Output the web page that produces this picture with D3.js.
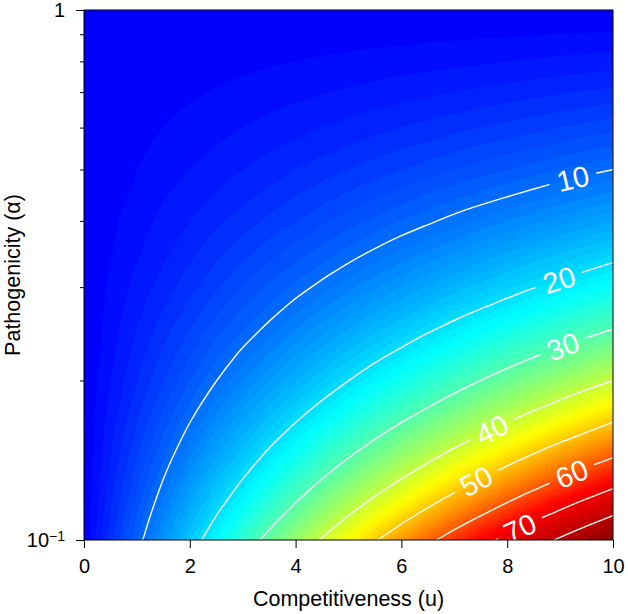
<!DOCTYPE html>
<html>
<head>
<meta charset="utf-8">
<script src="https://cdn.jsdelivr.net/npm/d3@7"></script>
<style>
body { margin: 0; background: #fff; }
text { font-family: "Liberation Sans", Arial, Helvetica, sans-serif; }
</style>
</head>
<body>
<div id="container"></div>
<script>
// grid: columns = competitiveness u, rows = pathogenicity alpha (bottom to top)
var uCols = [0, 0.5, 1, 1.5, 2, 2.5, 3, 3.5, 4, 4.5, 5, 5.5, 6, 6.5, 7, 7.5, 8, 8.5, 9, 9.5, 10];
var alphaRows = [0.1, 0.1122, 0.1259, 0.1413, 0.1585, 0.1778, 0.1995, 0.2239, 0.2512, 0.2818, 0.3162,
	0.3548, 0.3981, 0.4467, 0.5012, 0.5623, 0.6310, 0.7079, 0.7943, 0.8913, 1.0];
var valueGrid = [
	[0, 4.5, 9.0, 13.5, 18.0, 22.5, 27.0, 31.5, 36.0, 40.5, 45.0, 49.5, 54.0, 58.5, 63.0, 67.5, 72.0, 76.5, 81.0, 85.5, 90.0],
	[0, 4.0, 7.9, 11.9, 15.8, 19.8, 23.7, 27.7, 31.6, 35.6, 39.6, 43.5, 47.5, 51.4, 55.4, 59.3, 63.3, 67.2, 71.2, 75.1, 79.1],
	[0, 3.5, 6.9, 10.4, 13.9, 17.4, 20.8, 24.3, 27.8, 31.2, 34.7, 38.2, 41.6, 45.1, 48.6, 52.1, 55.5, 59.0, 62.5, 65.9, 69.4],
	[0, 3.0, 6.1, 9.1, 12.2, 15.2, 18.2, 21.3, 24.3, 27.4, 30.4, 33.4, 36.5, 39.5, 42.6, 45.6, 48.6, 51.7, 54.7, 57.8, 60.8],
	[0, 2.7, 5.3, 8.0, 10.6, 13.3, 15.9, 18.6, 21.2, 23.9, 26.6, 29.2, 31.9, 34.5, 37.2, 39.8, 42.5, 45.1, 47.8, 50.4, 53.1],
	[0, 2.3, 4.6, 6.9, 9.2, 11.6, 13.9, 16.2, 18.5, 20.8, 23.1, 25.4, 27.7, 30.0, 32.3, 34.7, 37.0, 39.3, 41.6, 43.9, 46.2],
	[0, 2.0, 4.0, 6.0, 8.0, 10.03, 12.0, 14.0, 16.0, 18.0, 20.05, 22.1, 24.1, 26.1, 28.1, 30.1, 32.1, 34.1, 36.1, 38.1, 40.1],
	[0, 1.7, 3.5, 5.2, 6.9, 8.7, 10.4, 12.1, 13.9, 15.6, 17.4, 19.1, 20.8, 22.6, 24.3, 26.0, 27.8, 29.5, 31.2, 33.0, 34.7],
	[0, 1.5, 3.0, 4.5, 6.0, 7.5, 8.9, 10.4, 11.9, 13.4, 14.9, 16.4, 17.9, 19.4, 20.9, 22.4, 23.8, 25.3, 26.8, 28.3, 29.8],
	[0, 1.3, 2.6, 3.8, 5.1, 6.4, 7.7, 8.9, 10.2, 11.5, 12.8, 14.0, 15.3, 16.6, 17.9, 19.1, 20.4, 21.7, 23.0, 24.2, 25.5],
	[0, 1.1, 2.2, 3.2, 4.3, 5.4, 6.5, 7.6, 8.6, 9.7, 10.8, 11.9, 13.0, 14.0, 15.1, 16.2, 17.3, 18.4, 19.4, 20.5, 21.6],
	[0, 0.9, 1.8, 2.7, 3.6, 4.6, 5.5, 6.4, 7.3, 8.2, 9.1, 10.01, 10.9, 11.8, 12.7, 13.7, 14.6, 15.5, 16.4, 17.3, 18.2],
	[0, 0.8, 1.5, 2.3, 3.0, 3.8, 4.5, 5.3, 6.0, 6.8, 7.6, 8.3, 9.1, 9.8, 10.6, 11.3, 12.1, 12.8, 13.6, 14.3, 15.1],
	[0, 0.6, 1.2, 1.9, 2.5, 3.1, 3.7, 4.3, 5.0, 5.6, 6.2, 6.8, 7.4, 8.1, 8.7, 9.3, 9.9, 10.5, 11.2, 11.8, 12.4],
	[0, 0.50, 0.99, 1.49, 1.99, 2.49, 2.99, 3.48, 3.98, 4.48, 4.98, 5.47, 5.97, 6.47, 6.97, 7.46, 7.96, 8.46, 8.96, 9.45, 9.95],
	[0, 0.39, 0.78, 1.17, 1.56, 1.95, 2.33, 2.72, 3.11, 3.50, 3.89, 4.28, 4.67, 5.06, 5.45, 5.84, 6.22, 6.61, 7.00, 7.39, 7.78],
	[0, 0.29, 0.59, 0.88, 1.17, 1.46, 1.76, 2.05, 2.34, 2.63, 2.93, 3.22, 3.51, 3.80, 4.10, 4.39, 4.68, 4.97, 5.27, 5.56, 5.85],
	[0, 0.21, 0.41, 0.62, 0.83, 1.03, 1.24, 1.45, 1.65, 1.86, 2.07, 2.27, 2.48, 2.68, 2.89, 3.10, 3.30, 3.51, 3.72, 3.92, 4.13],
	[0, 0.13, 0.26, 0.39, 0.52, 0.65, 0.78, 0.91, 1.04, 1.17, 1.30, 1.42, 1.55, 1.68, 1.81, 1.94, 2.07, 2.20, 2.33, 2.46, 2.59],
	[0, 0.06, 0.12, 0.18, 0.24, 0.31, 0.37, 0.43, 0.49, 0.55, 0.61, 0.67, 0.73, 0.79, 0.85, 0.92, 0.98, 1.04, 1.10, 1.16, 1.22],
	[0, 0, 0, 0, 0, 0, 0, 0, 0, 0, 0, 0, 0, 0, 0, 0, 0, 0, 0, 0, 0]
];
var lineLevels = [10, 20, 30, 40, 50, 60, 70, 80];
var labelLevels = [10, 20, 30, 40, 50, 60, 70];
var labelU = [9.24, 8.98, 9.05, 7.71, 7.41, 9.22, 8.24];
var xTicks = [0, 2, 4, 6, 8, 10];
var yMajor = [0.1, 1];
var yMinor = [0.2, 0.3, 0.4, 0.5, 0.6, 0.7, 0.8, 0.9];

var colourStops = [0, 0.25, 0.5, 0.75, 1];
var colourNames = ["#0000ff", "#00ffff", "#ffff00", "#ff0000", "#8b0000"];

var width = 628, height = 614;
var margin = {top: 10, right: 15, bottom: 74, left: 84};

var x = d3.scaleLinear().domain([0, 10]).range([margin.left, width - margin.right]);
var y = d3.scaleLog().domain([0.1, 1]).range([height - margin.bottom, margin.top]);
var colour = d3.scaleLinear().domain(colourStops).range(colourNames);

var svg = d3.select("#container").append("svg")
	.attr("width", width)
	.attr("height", height);

var defs = svg.append("defs");
defs.append("clipPath").attr("id", "plotclip").append("rect")
	.attr("x", x(0)).attr("y", y(1))
	.attr("width", x(10) - x(0)).attr("height", y(0.1) - y(1));

var nx = uCols.length, ny = alphaRows.length;
var values = [];
valueGrid.forEach(function(row) {
	row.forEach(function(v) { values.push(v); });
});

function clamp(v, lo, hi) { return Math.max(lo, Math.min(hi, v)); }
function colU(g) {
	var i = Math.min(Math.floor(g), nx - 2), f = g - i;
	return uCols[i] + f * (uCols[i + 1] - uCols[i]);
}
function rowAlpha(g) {
	var j = Math.min(Math.floor(g), ny - 2), f = g - j;
	return Math.exp(Math.log(alphaRows[j]) * (1 - f) + Math.log(alphaRows[j + 1]) * f);
}
// d3.contours puts sample i at i + 0.5
function gridPt(p) { return [clamp(p[0] - 0.5, 0, nx - 1), clamp(p[1] - 0.5, 0, ny - 1)]; }
function screenPt(g) { return [x(colU(g[0])), y(rowAlpha(g[1]))]; }

var contours = d3.contours().size([nx, ny]);

function ringsPath(coords) {
	return coords.map(function(poly) {
		return poly.map(function(ring) {
			return "M" + ring.map(function(p) { return screenPt(gridPt(p)); }).join("L") + "Z";
		}).join("");
	}).join("");
}

// filled bands, step 1
var bandLevels = d3.range(0, 90, 1);
var plot = svg.append("g").attr("clip-path", "url(#plotclip)");

plot.append("g").selectAll("path")
	.data(bandLevels).enter()
	.append("path")
	.attr("d", function(t) { return ringsPath(contours.contour(values, t).coordinates); })
	.attr("fill", function(t, i) { return colour(i / (bandLevels.length - 1)); })
	.attr("fill-rule", "evenodd");

// iso lines without the border pieces
function isoLines(level) {
	var c = contours.contour(values, level), lines = [];
	c.coordinates.forEach(function(poly) {
		poly.forEach(function(ring) {
			var cur = [];
			for (var k = 0; k < ring.length - 1; k++) {
				var a = gridPt(ring[k]), b = gridPt(ring[k + 1]);
				var border = (a[0] === 0 && b[0] === 0) || (a[0] === nx - 1 && b[0] === nx - 1) ||
					(a[1] === 0 && b[1] === 0) || (a[1] === ny - 1 && b[1] === ny - 1);
				if (border) {
					if (cur.length > 1) lines.push(cur);
					cur = [];
					continue;
				}
				var pa = screenPt(a), pb = screenPt(b);
				if (!cur.length) cur.push(pa);
				var last = cur[cur.length - 1];
				if (Math.abs(last[0] - pb[0]) + Math.abs(last[1] - pb[1]) > 3) cur.push(pb);
			}
			if (cur.length > 1) lines.push(cur);
		});
	});
	return lines;
}

function yAtX(lines, X) {
	for (var l = 0; l < lines.length; l++) {
		var pts = lines[l];
		for (var k = 0; k < pts.length - 1; k++) {
			var p0 = pts[k], p1 = pts[k + 1];
			if ((p0[0] - X) * (p1[0] - X) <= 0 && p0[0] !== p1[0]) {
				return p0[1] + (X - p0[0]) / (p1[0] - p0[0]) * (p1[1] - p0[1]);
			}
		}
	}
	return null;
}

var lineData = lineLevels.map(function(lv) { return {level: lv, lines: isoLines(lv)}; });

// label positions and slope
var labels = labelLevels.map(function(lv, i) {
	var lines = lineData.filter(function(d) { return d.level === lv; })[0].lines;
	var X = x(labelU[i]);
	var Y = yAtX(lines, X);
	var xr = Math.min(X + 16, x(10) - 0.5);
	var y1 = yAtX(lines, X - 16), y2 = yAtX(lines, xr);
	var ang = Math.atan2(y2 - y1, xr - (X - 16)) * 180 / Math.PI;
	return {level: lv, x: X, y: Y, angle: ang};
});

var mask = defs.append("mask").attr("id", "labelmask")
	.attr("maskUnits", "userSpaceOnUse")
	.attr("x", 0).attr("y", 0).attr("width", width).attr("height", height);
mask.append("rect").attr("x", 0).attr("y", 0).attr("width", width).attr("height", height).attr("fill", "#fff");

var line = d3.line().curve(d3.curveBasis);
var lineG = plot.append("g").attr("mask", "url(#labelmask)");
lineData.forEach(function(d) {
	lineG.selectAll(null)
		.data(d.lines).enter()
		.append("path")
		.attr("d", line)
		.attr("fill", "none")
		.attr("stroke", "#fff")
		.attr("stroke-width", 1.4);
});

var labelG = plot.append("g");
labels.forEach(function(d) {
	var t = labelG.append("text")
		.attr("transform", "translate(" + d.x + "," + d.y + ") rotate(" + d.angle + ")")
		.attr("text-anchor", "middle")
		.attr("dy", "0.36em")
		.attr("fill", "#fff")
		.attr("font-size", 29)
		.text(d.level);
	var w = t.node().getComputedTextLength();
	mask.append("rect")
		.attr("x", -w / 2 - 8).attr("y", -13)
		.attr("width", w + 16).attr("height", 26)
		.attr("transform", "translate(" + d.x + "," + d.y + ") rotate(" + d.angle + ")")
		.attr("fill", "#000");
});

// frame
svg.append("rect")
	.attr("x", x(0)).attr("y", y(1))
	.attr("width", x(10) - x(0)).attr("height", y(0.1) - y(1))
	.attr("fill", "none")
	.attr("stroke", "#000")
	.attr("stroke-width", 1);

// axes
var xAxis = svg.append("g")
	.attr("transform", "translate(0," + y(0.1) + ")")
	.call(d3.axisBottom(x).tickValues(xTicks).tickSize(8).tickPadding(11).tickFormat(d3.format("d")));
xAxis.select(".domain").remove();
xAxis.selectAll("text").attr("font-size", 20).attr("fill", "#000");

var yAxis = svg.append("g")
	.attr("transform", "translate(" + x(0) + ",0)")
	.call(d3.axisLeft(y).tickValues(yMajor).tickSize(8).tickPadding(11).tickFormat(function(d) { return d === 1 ? "1" : "10"; }));
yAxis.select(".domain").remove();
yAxis.selectAll("text").attr("font-size", 20).attr("fill", "#000");
yAxis.selectAll(".tick text").filter(function(d) { return d === 0.1; })
	.append("tspan")
	.attr("dy", "-0.4em")
	.attr("font-size", 14)
	.text("\u22121");

var yMinorAxis = svg.append("g")
	.attr("transform", "translate(" + x(0) + ",0)")
	.call(d3.axisLeft(y).tickValues(yMinor).tickSize(4).tickFormat(""));
yMinorAxis.select(".domain").remove();

svg.append("text")
	.attr("x", (x(0) + x(10)) / 2)
	.attr("y", 606)
	.attr("text-anchor", "middle")
	.attr("font-size", 21.5)
	.text("Competitiveness (u)");

svg.append("text")
	.attr("transform", "translate(20," + (y(1) + y(0.1)) / 2 + ") rotate(-90)")
	.attr("text-anchor", "middle")
	.attr("font-size", 21.5)
	.text("Pathogenicity (\u03b1)");
</script>
</body>
</html>
